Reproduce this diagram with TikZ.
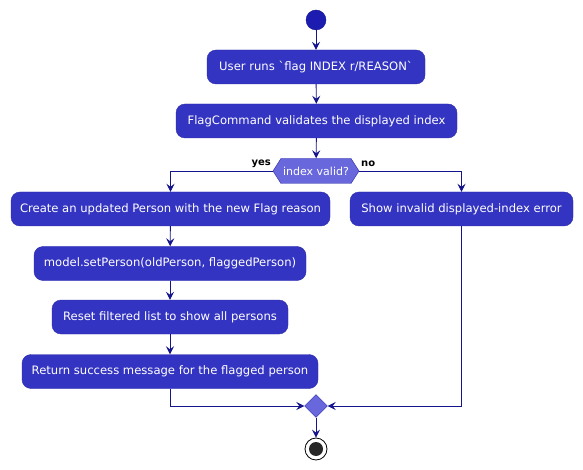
\documentclass[tikz,border=0pt]{standalone}
\usepackage{fontspec}
\setmainfont{DejaVu Sans}
\usetikzlibrary{arrows.meta,shapes.symbols,shapes.geometric}
\definecolor{boxfill}{HTML}{3434C2}
\definecolor{boxline}{HTML}{2A2AA8}
\definecolor{linecol}{HTML}{14148C}
\definecolor{hexfill}{HTML}{6868DC}
\definecolor{startfill}{HTML}{1C1CB0}
\tikzset{
  actbox/.style={draw=boxline, fill=boxfill, rounded corners=9pt, text=white,
    minimum height=34pt, inner sep=0pt, font=\fontsize{11.6}{13}\selectfont},
  hexnode/.style={shape=signal, signal to=west and east, signal pointer angle=115,
    draw=boxline, fill=hexfill, text=white, minimum width=86pt, minimum height=25pt,
    inner sep=0pt, font=\fontsize{11}{13}\selectfont},
  merge/.style={diamond, draw=boxline, fill=hexfill, minimum width=23pt, minimum height=23pt, inner sep=0pt},
  flow/.style={draw=linecol, line width=0.9pt, -{Stealth[length=8pt,width=8pt,inset=3pt]}},
  lbl/.style={font=\bfseries\fontsize{10}{12}\selectfont, text=black, inner sep=0pt}
}
\begin{document}
\begin{tikzpicture}[x=1pt,y=-1pt]
\useasboundingbox (0,0) rectangle (583,470);
\node[circle, fill=startfill, draw=linecol, minimum size=20pt, inner sep=0pt] (start) at (316,20) {};
\node[actbox, minimum width=218pt] (b1) at (316,67) {User runs \textasciigrave flag INDEX r/REASON\textasciigrave};
\node[actbox, minimum width=281pt] (b2) at (316.5,121) {FlagCommand validates the displayed index};
\node[hexnode] (hex) at (316,171) {index valid?};
\node[actbox, minimum width=319pt] (b3) at (170.5,209) {Create an updated Person with the new Flag reason};
\node[actbox, minimum width=223pt] (b4) at (461.5,209) {Show invalid displayed-index error};
\node[actbox, minimum width=272pt] (b5) at (170,263.5) {model.setPerson(oldPerson, flaggedPerson)};
\node[actbox, minimum width=236pt] (b6) at (170,317) {Reset filtered list to show all persons};
\node[actbox, minimum width=296pt] (b7) at (170,371.5) {Return success message for the flagged person};
\node[merge] (m) at (316,406) {};
\node[circle, draw=black, fill=white, line width=0.8pt, minimum size=22pt, inner sep=0pt] (end) at (316,449) {};
\node[circle, fill=black!85, minimum size=14pt, inner sep=0pt] (endin) at (316,449) {};
\node[lbl, anchor=east] (yes) at (271,164) {yes};
\node[lbl, anchor=west] (no) at (361,164) {no};
\draw[flow] (start) -- (b1);
\draw[flow] (b1) -- (b2);
\draw[flow] (b2) -- (hex);
\draw[flow] (hex.west) -| (b3.north);
\draw[flow] (hex.east) -| (b4.north);
\draw[flow] (b3) -- (b5);
\draw[flow] (b5) -- (b6);
\draw[flow] (b6) -- (b7);
\draw[flow] (b7.south) |- (m.west);
\draw[flow] (b4.south) |- (m.east);
\draw[flow] (m) -- (end);
\end{tikzpicture}
\end{document}
